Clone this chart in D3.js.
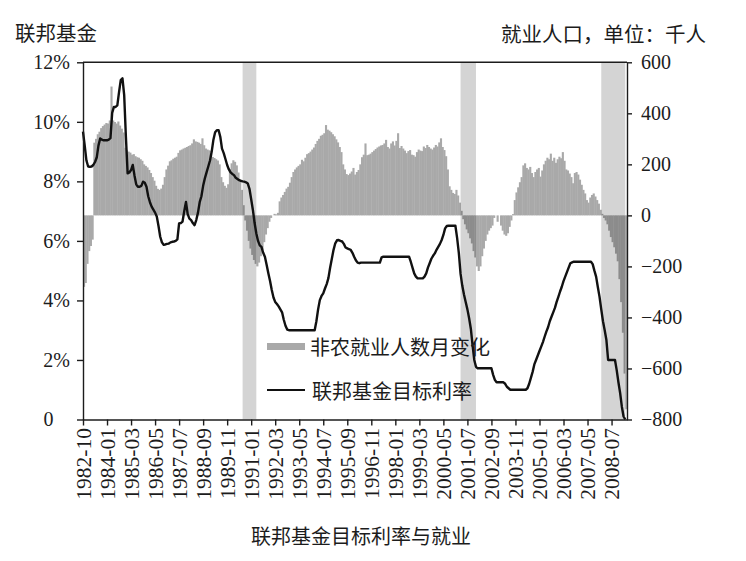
<!DOCTYPE html>
<html><head><meta charset="utf-8">
<script src="https://cdn.jsdelivr.net/npm/d3@7/dist/d3.min.js"></script>
<style>
body{margin:0;background:#fff;}
svg{display:block;}
.num{font-family:"Liberation Serif","Times New Roman",serif;}
.cjk{font-family:"Noto Sans CJK SC","Noto Sans",sans-serif;}
</style></head>
<body><svg id="chart" width="746" height="561"></svg>
<script>
// ---- data ----
const tickLabels = ["1982-10","1984-01","1985-03","1986-05","1987-07","1988-09","1989-11","1991-01","1992-03","1993-05","1994-07","1995-09","1996-11","1998-01","1999-03","2000-05","2001-07","2002-09","2003-11","2005-01","2006-03","2007-05","2008-07"];
const tickStep = 14; // months between labelled categories
const firstMonth = "1982-11"; // month of category index 0 used for the shaded periods

// monthly change in nonfarm payrolls, thousands (one value per month)
const payrollChange = [
-280,-265,-190,-140,-120,-95,285,300,318,328,342,350,356,362,360,372,505,372,366,360,
368,352,340,325,265,255,250,246,238,240,232,228,226,220,214,200,194,188,178,166,
150,136,116,104,100,105,120,150,180,195,212,216,222,226,230,245,255,258,262,265,
268,272,275,282,298,290,288,285,280,302,275,262,258,255,240,229,225,220,215,200,
150,130,116,108,122,182,204,216,210,196,168,140,100,40,-20,-60,-100,-130,-155,-175,
-190,-200,-185,-160,-135,-105,-75,-50,-25,-10,0,6,4,10,55,70,80,92,105,112,
128,150,170,180,188,194,200,218,212,226,240,244,250,258,266,280,292,300,312,316,
322,354,336,332,326,318,310,298,286,268,248,200,180,162,158,164,172,186,160,170,
178,200,228,238,282,236,238,242,248,254,260,266,270,274,276,282,296,268,262,282,
290,274,292,322,264,272,262,254,244,252,256,238,236,230,248,258,254,252,270,264,
276,268,262,258,266,276,270,286,302,268,256,232,180,114,100,88,84,100,78,50,
18,-15,-35,-55,-70,-90,-110,-140,-165,-200,-218,-200,-160,-130,-100,-75,-60,-50,-40,-10,
0,-25,0,-40,-60,-75,-80,-70,-45,-20,5,60,90,110,130,150,196,204,186,180,
190,166,150,170,180,186,152,176,200,214,226,220,242,214,226,206,220,230,224,248,
214,180,176,164,150,126,166,170,160,140,120,100,86,60,50,70,80,86,74,60,
46,22,6,-10,-20,-35,-60,-85,-105,-125,-150,-180,-250,-340,-460,-620,-760
];

// federal funds target rate, percent (one value per month)
const fedFundsRate = [
9.67,9.2,8.7,8.5,8.49,8.5,8.55,8.65,8.8,9.2,9.44,9.4,9.38,9.38,9.38,9.4,9.45,10.3,10.5,10.5,
10.55,11.0,11.4,11.46,10.9,9.5,8.27,8.3,8.38,8.55,8.2,7.9,7.82,7.82,7.85,7.99,7.95,7.82,7.5,7.3,
7.15,7.05,6.95,6.82,6.5,6.14,5.95,5.87,5.88,5.9,5.91,5.95,5.97,5.98,6.0,6.05,6.59,6.6,6.65,7.0,
7.31,6.9,6.75,6.7,6.6,6.53,6.7,6.95,7.3,7.5,7.85,8.1,8.3,8.5,8.7,9.0,9.4,9.65,9.72,9.72,
9.5,9.1,8.95,8.75,8.55,8.4,8.3,8.25,8.21,8.12,8.08,8.04,8.02,8.0,7.99,7.97,7.93,7.75,7.4,7.04,
6.6,6.25,6.0,5.85,5.8,5.6,5.47,5.2,4.91,4.65,4.35,4.1,3.95,3.88,3.8,3.7,3.6,3.35,3.15,3.02,
3.0,3.0,3.0,3.0,3.0,3.0,3.0,3.0,3.0,3.0,3.0,3.0,3.0,3.0,3.0,3.0,3.3,3.7,4.01,4.15,
4.24,4.4,4.55,4.75,5.1,5.4,5.7,5.92,6.02,6.03,6.0,5.98,5.9,5.78,5.75,5.72,5.7,5.6,5.47,5.35,
5.27,5.25,5.27,5.27,5.27,5.27,5.27,5.27,5.27,5.27,5.27,5.27,5.27,5.27,5.45,5.47,5.47,5.47,5.47,5.47,
5.47,5.47,5.47,5.47,5.47,5.47,5.47,5.47,5.47,5.47,5.47,5.3,5.1,4.91,4.8,4.74,4.74,4.74,4.74,4.8,
4.91,5.1,5.25,5.4,5.5,5.58,5.7,5.8,5.9,6.03,6.2,6.42,6.5,6.51,6.51,6.51,6.51,6.51,6.1,5.6,
4.9,4.5,4.2,3.95,3.7,3.4,3.05,2.5,2.0,1.77,1.72,1.72,1.72,1.72,1.72,1.72,1.72,1.72,1.72,1.5,
1.33,1.25,1.25,1.25,1.25,1.25,1.2,1.1,1.05,1.0,1.0,1.0,1.0,1.0,1.0,1.0,1.0,1.0,1.0,1.05,
1.2,1.4,1.6,1.85,2.0,2.15,2.3,2.45,2.6,2.78,2.95,3.1,3.3,3.45,3.6,3.75,3.95,4.12,4.3,4.46,
4.65,4.8,4.95,5.1,5.25,5.28,5.3,5.3,5.3,5.3,5.3,5.3,5.3,5.3,5.3,5.3,5.3,5.22,5.0,4.8,
4.45,4.12,3.7,3.3,3.0,2.67,2.0,2.0,2.0,2.0,2.0,1.66,1.25,0.89,0.43,0.1,0.0
];

// shaded recession periods (first and last month, inclusive)
const recessions = [["1990-08","1991-03"],["2001-03","2001-11"],["2008-01","2009-02"]];

const leftTicks = [0,2,4,6,8,10,12];
const rightTicks = [600,400,200,0,-200,-400,-600,-800];
const titleLeft = "联邦基金";
const titleRight = "就业人口，单位：千人";
const chartTitle = "联邦基金目标利率与就业";
const legendLabels = ["非农就业人数月变化","联邦基金目标利率"];

// ---- drawing ----
const svg = d3.select("#chart");
const M = {left: 83, right: 627, top: 62.3, bottom: 419.5};
const ink = "#1c1c1c";
const barColor = "#a9a9a9";

const n = payrollChange.length;
const x = d3.scaleLinear().domain([0, n]).range([M.left, M.right]);
const yL = d3.scaleLinear().domain([0, 12]).range([M.bottom, M.top]);
const yR = d3.scaleLinear().domain([-800, 600]).range([M.bottom, M.top]);

const [fy, fm] = firstMonth.split("-").map(Number);
const monthIndex = s => { const [y, m] = s.split("-").map(Number); return (y - fy) * 12 + (m - fm); };

// bars
svg.append("g").selectAll("rect").data(payrollChange).join("rect")
  .attr("x", (d, i) => x(i))
  .attr("width", (d, i) => x(i + 1) - x(i) + 0.4)
  .attr("y", d => Math.min(yR(0), yR(d)))
  .attr("height", d => Math.abs(yR(d) - yR(0)))
  .attr("fill", barColor);

// recession shading
svg.append("g").selectAll("rect").data(recessions).join("rect")
  .attr("x", d => x(monthIndex(d[0])))
  .attr("width", d => x(monthIndex(d[1]) + 1) - x(monthIndex(d[0])))
  .attr("y", M.top)
  .attr("height", M.bottom - M.top)
  .attr("fill", "#000").attr("fill-opacity", 0.17);

// fed funds line
svg.append("path")
  .datum(fedFundsRate)
  .attr("fill", "none").attr("stroke", "#111").attr("stroke-width", 2.4)
  .attr("stroke-linejoin", "round")
  .attr("d", d3.line().x((d, i) => x(i)).y(d => yL(d)));

// axes
const axL = svg.append("g").attr("transform", `translate(${M.left},0)`)
  .call(d3.axisLeft(yL).tickValues(leftTicks).tickSize(6).tickSizeOuter(0).tickPadding(7)
    .tickFormat(d => d === 0 ? "0" : d + "%"));
axL.selectAll("text").attr("dx", d => d === 0 ? "-0.83em" : null);

const axR = svg.append("g").attr("transform", `translate(${M.right},0)`)
  .call(d3.axisRight(yR).tickValues(rightTicks).tickSize(5).tickSizeOuter(0).tickPadding(9));

const axB = svg.append("g").attr("transform", `translate(0,${M.bottom})`)
  .call(d3.axisBottom(x).tickValues(tickLabels.map((d, k) => k * tickStep))
    .tickFormat((d, k) => tickLabels[k]).tickSize(6).tickSizeOuter(0));
axB.selectAll("text")
  .attr("transform", "rotate(-90)")
  .attr("text-anchor", "end")
  .attr("x", -8.5).attr("y", 0).attr("dy", "0.33em");

[axL, axR, axB].forEach(g => {
  g.attr("color", ink).attr("font-family", null).attr("font-size", null);
  g.selectAll("path,line").attr("stroke-width", 1.4);
  g.selectAll("text").attr("class", "num").style("fill", ink).style("font-size", "20px");
});
axB.selectAll("text").style("font-size", "21.5px");

// top border
svg.append("line").attr("x1", M.left).attr("x2", M.right).attr("y1", M.top).attr("y2", M.top)
  .attr("stroke", ink).attr("stroke-width", 1.4);

// titles
svg.append("text").attr("class", "cjk").attr("x", 15).attr("y", 31.5).attr("dominant-baseline", "central")
  .style("font-size", "20.5px").attr("fill", ink).text(titleLeft);
svg.append("text").attr("class", "cjk").attr("x", 706).attr("y", 32.5).attr("dominant-baseline", "central").attr("text-anchor", "end")
  .style("font-size", "20.5px").attr("fill", ink).text(titleRight);
svg.append("text").attr("class", "cjk").attr("x", 361).attr("y", 535).attr("dominant-baseline", "central").attr("text-anchor", "middle")
  .style("font-size", "20px").attr("fill", ink).text(chartTitle);

// legend
const lg = svg.append("g");
lg.append("rect").attr("x", 267).attr("y", 343).attr("width", 38).attr("height", 7).attr("fill", barColor);
lg.append("text").attr("class", "cjk").attr("x", 310).attr("y", 346).attr("dominant-baseline", "central")
  .style("font-size", "20px").attr("fill", ink).text(legendLabels[0]);
lg.append("line").attr("x1", 267).attr("x2", 305).attr("y1", 390).attr("y2", 390)
  .attr("stroke", "#111").attr("stroke-width", 2.2);
lg.append("text").attr("class", "cjk").attr("x", 312).attr("y", 390).attr("dominant-baseline", "central")
  .style("font-size", "20px").attr("fill", ink).text(legendLabels[1]);
</script>
</body></html>
